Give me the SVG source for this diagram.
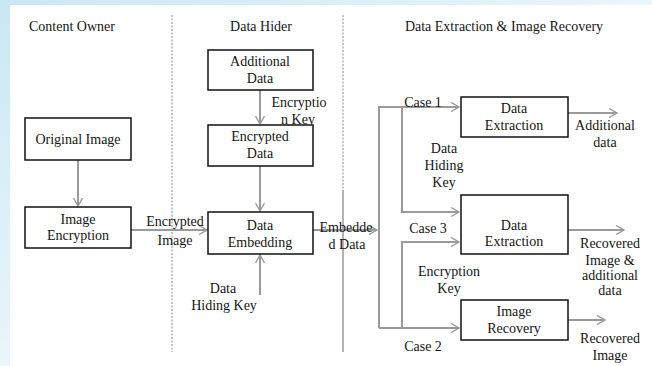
<svg xmlns="http://www.w3.org/2000/svg" width="652" height="366" viewBox="0 0 652 366">
  <defs>
    <linearGradient id="bg" x1="0" y1="0" x2="1" y2="1">
      <stop offset="0" stop-color="#c9e8f4"/>
      <stop offset="0.45" stop-color="#e6f4fa"/>
      <stop offset="0.8" stop-color="#ffffff"/>
    </linearGradient>
    <marker id="arr" viewBox="0 0 10 10" refX="9" refY="5" markerWidth="10" markerHeight="10" markerUnits="userSpaceOnUse" orient="auto">
      <path d="M1,0.5 L9,5 L1,9.5" fill="none" stroke="#9a9a9a" stroke-width="1.4"/>
    </marker>
  </defs>
  <style>
    text { font-family: 'Liberation Serif', 'DejaVu Serif', 'Times New Roman', serif; font-size: 14px; fill: #151515; text-anchor: middle; }
    .box { fill: #ffffff; stroke: #111111; stroke-width: 1.5; }
    .conn { fill: none; stroke: #9a9a9a; stroke-width: 2; }
    .div { stroke: #a0a0a0; stroke-width: 1.2; stroke-dasharray: 2 1.5; }
  </style>

  <!-- page background -->
  <rect x="0" y="0" width="652" height="366" fill="url(#bg)"/>
  <rect x="10" y="5" width="642" height="361" fill="#ffffff"/>

  <!-- lane dividers -->
  <g id="dividers">
    <line class="div" x1="172" y1="15" x2="172" y2="352"/>
    <line class="div" x1="343" y1="15" x2="343" y2="190"/>
    <line x1="343" y1="190" x2="343" y2="352" stroke="#8a8a8a" stroke-width="1.3"/>
  </g>

  <!-- lane titles -->
  <g id="titles">
    <text x="72" y="31">Content Owner</text>
    <text x="261" y="31">Data Hider</text>
    <text x="504" y="31">Data Extraction &amp; Image Recovery</text>
  </g>

  <!-- connectors -->
  <g id="connectors">
    <path class="conn" d="M78,160 V206" marker-end="url(#arr)"/>
    <path class="conn" d="M260,90 V124" marker-end="url(#arr)"/>
    <path class="conn" d="M260,166 V211" marker-end="url(#arr)"/>
    <path class="conn" d="M260,295 V255" marker-end="url(#arr)"/>
    <path class="conn" d="M131,230 H207" marker-end="url(#arr)"/>
    <path class="conn" d="M313,230 H377" marker-end="url(#arr)"/>
    <path class="conn" d="M379,328 V107 H459" marker-end="url(#arr)"/>
    <path class="conn" d="M379,328 H459" marker-end="url(#arr)"/>
    <path class="conn" d="M402,107 V212 H459" marker-end="url(#arr)"/>
    <path class="conn" d="M402,328 V242 H459" marker-end="url(#arr)"/>
    <path class="conn" d="M568,113 H617" marker-end="url(#arr)"/>
    <path class="conn" d="M568,230 H624" marker-end="url(#arr)"/>
    <path class="conn" d="M568,320 H605" marker-end="url(#arr)"/>
  </g>

  <!-- connector labels -->
  <g id="labels">
    <text x="299" y="107">Encryptio</text>
    <text x="298" y="124">n Key</text>
    <text x="175" y="226">Encrypted</text>
    <text x="175" y="245">Image</text>
    <text x="223" y="293">Data</text>
    <text x="224" y="310">Hiding Key</text>
    <text x="346" y="232">Embedde</text>
    <text x="347" y="249">d Data</text>
    <text x="423" y="107">Case 1</text>
    <text x="444" y="153">Data</text>
    <text x="444" y="170">Hiding</text>
    <text x="444" y="187">Key</text>
    <text x="428" y="233">Case 3</text>
    <text x="449" y="276">Encryption</text>
    <text x="449" y="293">Key</text>
    <text x="423" y="351">Case 2</text>
    <text x="605" y="130">Additional</text>
    <text x="605" y="147">data</text>
    <text x="610" y="248">Recovered</text>
    <text x="610" y="265">Image &amp;</text>
    <text x="610" y="280">additional</text>
    <text x="610" y="295">data</text>
    <text x="610" y="343">Recovered</text>
    <text x="610" y="360">Image</text>
  </g>

  <!-- nodes -->
  <g id="original-image">
    <rect class="box" x="25" y="118" width="106" height="42"/>
    <text x="78" y="144">Original Image</text>
  </g>
  <g id="image-encryption">
    <rect class="box" x="25" y="207" width="106" height="41"/>
    <text x="78" y="224">Image</text>
    <text x="78" y="240">Encryption</text>
  </g>
  <g id="additional-data">
    <rect class="box" x="208" y="50" width="105" height="40"/>
    <text x="260" y="66">Additional</text>
    <text x="260" y="83">Data</text>
  </g>
  <g id="encrypted-data">
    <rect class="box" x="208" y="125" width="105" height="41"/>
    <text x="260" y="141">Encrypted</text>
    <text x="260" y="158">Data</text>
  </g>
  <g id="data-embedding">
    <rect class="box" x="208" y="212" width="105" height="42"/>
    <text x="260" y="230">Data</text>
    <text x="260" y="247">Embedding</text>
  </g>
  <g id="data-extraction-1">
    <rect class="box" x="461" y="97" width="107" height="40"/>
    <text x="514" y="113">Data</text>
    <text x="514" y="130">Extraction</text>
  </g>
  <g id="data-extraction-2">
    <rect class="box" x="461" y="195" width="107" height="59"/>
    <text x="514" y="230">Data</text>
    <text x="514" y="246">Extraction</text>
  </g>
  <g id="image-recovery">
    <rect class="box" x="461" y="300" width="107" height="40"/>
    <text x="514" y="316">Image</text>
    <text x="514" y="333">Recovery</text>
  </g>
</svg>
